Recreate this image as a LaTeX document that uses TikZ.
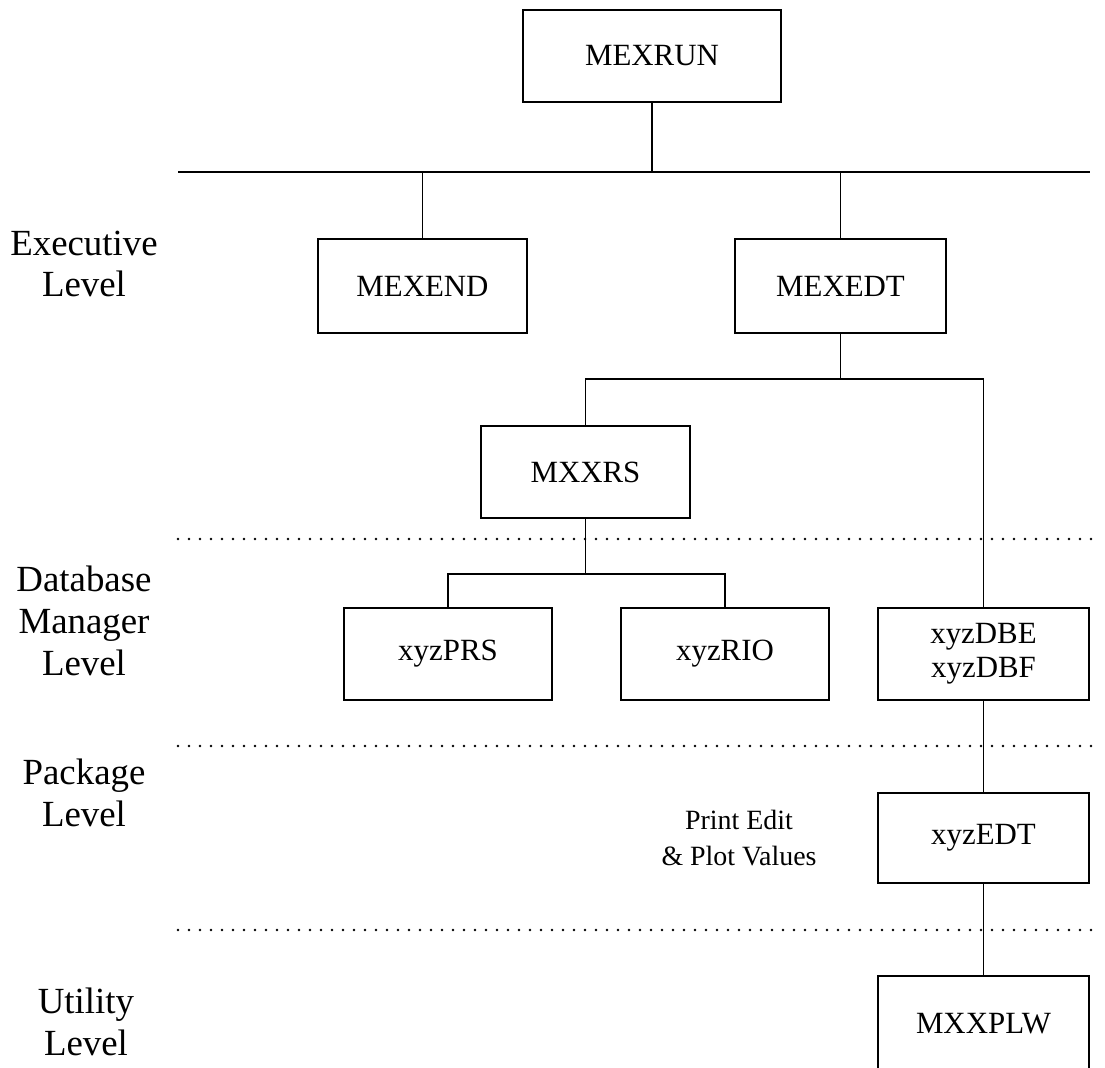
\documentclass[tikz,border=0pt]{standalone}
\usepackage{fontspec}
\setmainfont{Liberation Serif}
\begin{document}
\begin{tikzpicture}[x=1bp,y=-1bp,
  modbox/.style={draw,line width=2.4bp,inner sep=0pt,align=center,
    font=\fontsize{31}{34}\selectfont},
  wire/.style={line width=1.8bp},
  levelsep/.style={line width=2.8bp,dash pattern=on 0bp off 11bp,line cap=round},
  levellabel/.style={align=center,font=\fontsize{37}{42}\selectfont},
  note/.style={align=center,font=\fontsize{28}{37}\selectfont}]
\useasboundingbox (0,0) rectangle (1105,1068);
\clip (0,0) rectangle (1105,1068);

% level labels
\node[levellabel] (lexec) at (84,264)  {Executive\\Level};
\node[levellabel] (ldb)   at (84,621)  {Database\\Manager\\Level};
\node[levellabel] (lpkg)  at (84,793)  {Package\\Level};
\node[levellabel] (lutil) at (86,1022) {Utility\\Level};

% dotted separators between the levels
\coordinate (s1l) at (178,539); \coordinate (s1r) at (1095,539);
\coordinate (s2l) at (178,746); \coordinate (s2r) at (1095,746);
\coordinate (s3l) at (178,930); \coordinate (s3r) at (1095,930);
\draw[levelsep] (s1l) -- (s1r);
\draw[levelsep] (s2l) -- (s2r);
\draw[levelsep] (s3l) -- (s3r);

% modules
\node[modbox,minimum width=258bp,minimum height=92bp] (run)  at (652,56)    {MEXRUN};
\node[modbox,minimum width=209bp,minimum height=94bp] (mend) at (422.5,286) {MEXEND};
\node[modbox,minimum width=211bp,minimum height=94bp] (medt) at (840.5,286) {MEXEDT};
\node[modbox,minimum width=209bp,minimum height=92bp] (rs)   at (585.5,472) {MXXRS};
\node[modbox,minimum width=208bp,minimum height=92bp] (prs)  at (448,654)   {xyzPRS};
\node[modbox,minimum width=208bp,minimum height=92bp] (rio)  at (725,654)   {xyzRIO};
\node[modbox,minimum width=211bp,minimum height=92bp] (dbe)  at (983.5,654) {xyzDBE\\xyzDBF};
\node[modbox,minimum width=211bp,minimum height=90bp] (xedt) at (983.5,838) {xyzEDT};
\node[modbox,minimum width=211bp,minimum height=96bp] (plw)  at (983.5,1024) {MXXPLW};

\node[note] (pnote) at (739,838) {Print Edit\\\& Plot Values};

% buses
\coordinate (b1l) at (178,172); \coordinate (b1r) at (1090,172);
\coordinate (b2) at (841,379);
\coordinate (b3) at (585,574);

\draw[wire] (b1l) -- (b1r);
\draw[wire] (run.south) -- (run.south |- b1l);
\draw[wire] (mend.north |- b1l) -- (mend.north);
\draw[wire] (medt.north |- b1l) -- (medt.north);

\draw[wire] (medt.south) -- (medt.south |- b2);
\draw[wire] (rs.north) -- (rs.north |- b2) -- (dbe.north |- b2) -- (dbe.north);

\draw[wire] (rs.south) -- (rs.south |- b3);
\draw[wire] (prs.north) -- (prs.north |- b3) -- (rio.north |- b3) -- (rio.north);

\draw[wire] (dbe.south) -- (xedt.north);
\draw[wire] (xedt.south) -- (plw.north);
\end{tikzpicture}
\end{document}
